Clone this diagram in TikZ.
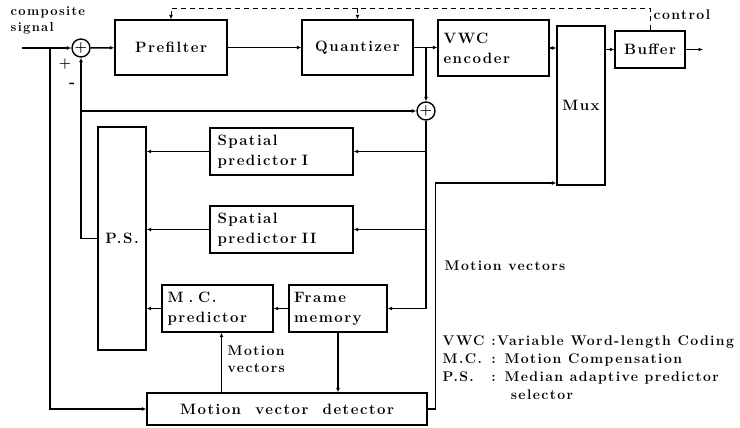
\documentclass[tikz,border=0pt]{standalone}
\usepackage{fontspec}
\setmainfont{Latin Modern Roman}[LetterSpace=10]
\usetikzlibrary{positioning,arrows.meta,calc}
\begin{document}
\begin{tikzpicture}[x=1pt,y=-1pt,
  blk/.style={draw, line width=1.4pt, font=\bfseries\fontsize{15}{20}\selectfont, inner sep=4pt},
  txtblk/.style={blk, align=left, text width=#1},
  sumc/.style={draw, circle, line width=1.4pt, minimum size=18pt, inner sep=0pt, font=\bfseries\Large},
  lbl/.style={font=\bfseries\fontsize{14}{17}\selectfont, inner sep=1pt, align=left},
  ctlline/.style={dash pattern=on 5pt off 4pt, line width=1pt},
  >={Latex[length=4.5pt,width=4pt]}, line width=1.4pt]
  \useasboundingbox (0,0) rectangle (740,428);
  % forward path
  \node[sumc] (sum1) at (81,48) {+};
  \node[blk, minimum width=112pt, minimum height=55pt] (prefilter) at (171,47.5) {Prefilter};
  \node[blk, minimum width=111pt, minimum height=55pt] (quant) at (357.5,47.5) {Quantizer};
  \node[txtblk=100pt, minimum width=111pt, minimum height=56pt] (vwc) at (493.5,48) {VWC\\encoder};
  \node[blk, minimum width=48pt, minimum height=159pt] (mux) at (581,105.5) {Mux};
  \node[blk, minimum width=70pt, minimum height=37pt] (buffer) at (650,49.5) {Buffer};
  % prediction loop
  \node[sumc] (sum2) at (426,111) {+};
  \node[txtblk=128pt, minimum width=143pt, minimum height=47pt] (sp1) at (281.5,151.5) {Spatial\\ predictor I};
  \node[txtblk=128pt, minimum width=143pt, minimum height=47pt] (sp2) at (281.5,229.5) {Spatial\\predictor II};
  \node[blk, minimum width=48pt, minimum height=223pt] (ps) at (122,238.5) {P.S.};
  \node[txtblk=100pt, minimum width=111pt, minimum height=47pt] (mc) at (217.5,308.5) {M . C.\\predictor};
  \node[txtblk=88pt, minimum width=98pt, minimum height=47pt] (fm) at (338,308.5) {Frame\\memory};
  \node[blk, minimum width=280pt, minimum height=32pt] (mvd) at (287,409) {Motion\ \ vector\ \ detector};
  \coordinate (in) at (22,48);
  \coordinate (out) at (703,49.5);
  \coordinate (mvy) at (0,183);
  \path (buffer.north) ++(0,-22) coordinate (ctl);
  % labels
  \node[lbl, anchor=north west, font=\bfseries\fontsize{13}{16}\selectfont] (insig) at (9,5) {composite\\ signal};
  \node[lbl] (plus) at (65,64) {+};
  \node[lbl, font=\bfseries\fontsize{16}{17}\selectfont] (minus) at (72,85) {-};
  \node[lbl, anchor=west] (ctllbl) at ($(ctl)+(2,6)$) {control};
  \node[lbl, anchor=west] (mvlbl1) at (226,359) {Motion\\vectors};
  \node[lbl, anchor=west] (mvlbl2) at (443,266) {Motion vectors};
  \node[lbl, anchor=north west, font=\bfseries\fontsize{14}{18}\selectfont] (legend) at (441,331)
    {\begin{tabular}{@{}l@{}l@{}}
     VWC\ \ & :Variable Word-length Coding\\
     M.C.\,& : Motion Compensation\\
     P.S.\,& : Median adaptive predictor\\
          & \hspace{1.4em}selector
     \end{tabular}};
  % connectors
  \draw[->] (in) -- (sum1);
  \draw[->] (in -| 50,0) |- (mvd.west);
  \draw[->] (sum1) -- (prefilter);
  \draw[->] (prefilter) -- (quant);
  \draw[->] (quant) -- (vwc.west |- quant);
  \draw[->] (sum2 |- quant.east) -- (sum2.north);
  \draw[->] (vwc.east) -- (vwc.east -| mux.west);
  \draw[->] (buffer.west -| mux.east) -- (buffer.west);
  \draw[->] (buffer) -- (out);
  \draw[ctlline, ->] (buffer.north) -- (ctl) -| (prefilter.north);
  \draw[ctlline, ->] (ctl -| quant.north) -- (quant.north);
  \draw[->] (ps.west) -| (sum1.south);
  \draw[->] (sum1.south |- sum2) -- (sum2.west);
  \draw[->] (sum2.south) |- (fm.east);
  \draw[->] (sum2 |- sp1.east) -- (sp1.east);
  \draw[->] (sum2 |- sp2.east) -- (sp2.east);
  \draw[->] (sp1.west) -- (sp1.west -| ps.east);
  \draw[->] (sp2.west) -- (sp2.west -| ps.east);
  \draw[->] (mc.west) -- (mc.west -| ps.east);
  \draw[->] (fm.west) -- (mc.east);
  \draw[->] ([xshift=4pt]mc.south |- mvd.north) -- ([xshift=4pt]mc.south);
  \draw[->] (fm.south) -- (fm.south |- mvd.north);
  \draw[->] (mvd.east) -- ++(8,0) |- (mux.west |- mvy);
\end{tikzpicture}
\end{document}
